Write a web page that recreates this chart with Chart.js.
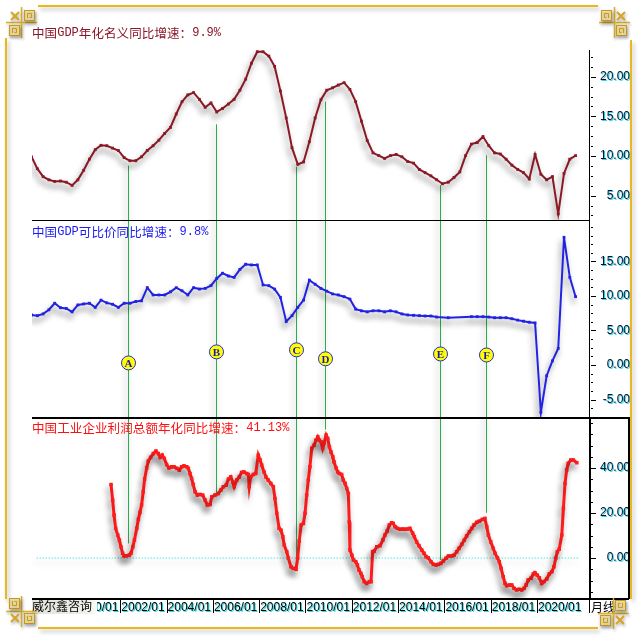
<!DOCTYPE html>
<html>
<head>
<meta charset="utf-8">
<script src="https://cdn.jsdelivr.net/npm/chart.js@4.4.0/dist/chart.umd.min.js"></script>
<style>
html, body { margin: 0; padding: 0; background: #fff; }
#wrap { position: relative; width: 640px; height: 640px; }
canvas { position: absolute; left: 0; top: 0; }
</style>
</head>
<body>
<div id="wrap"><canvas id="chart" width="640" height="640"></canvas></div>
<script>
// titles
const titleTop = '中国GDP年化名义同比增速：9.9%';
const titleMid = '中国GDP可比价同比增速：9.8%';
const titleBot = '中国工业企业利润总额年化同比增速：41.13%';

// quarterly series, first quarter is 1998/03
const quarterStart = 1998 + 2 / 12;
const nominalGdp = [
  9.9, 8.4, 7.4, 7.0, 6.8, 6.85, 6.7, 6.3, 7.0, 8.2,
  9.6, 10.8, 11.35, 11.3, 11.0, 10.7, 9.8, 9.4, 9.4, 9.9,
  10.7, 11.3, 12.0, 12.85, 13.6, 15.3, 16.85, 17.7, 18.0, 17.15,
  16.15, 16.7, 15.55, 16.0, 16.55, 17.15, 18.3, 19.7, 21.7, 23.15,
  23.15, 22.6, 21.3, 18.2, 14.8, 11.05, 8.95, 9.25, 11.8, 14.8,
  17.1, 18.3, 18.6, 18.95, 19.25, 18.4, 16.85, 14.4, 11.95, 10.4,
  10.05, 9.7, 10.05, 10.2, 9.9, 9.3, 9.1, 8.3, 7.9, 7.5,
  7.0, 6.5, 6.7, 7.3, 8.0, 10.05, 11.5, 11.7, 12.45, 11.3,
  10.4, 10.25, 9.6, 8.85, 8.3, 7.9, 7.1, 10.2, 7.7, 7.0,
  7.4, 2.7, 7.8, 9.6, 10.05
];
const realGdp = [
  7.25, 7.15, 7.4, 8.0, 8.95, 8.3, 8.2, 7.7, 8.7, 8.85,
  8.95, 8.35, 9.4, 9.0, 8.8, 8.35, 8.95, 8.95, 9.2, 9.3,
  11.2, 10.15, 10.15, 10.15, 10.6, 11.2, 10.75, 10.15, 11.2, 11.0,
  11.1, 11.5, 12.55, 13.3, 12.9, 12.7, 13.85, 14.6, 14.5, 14.5,
  11.6, 11.5, 11.0, 9.8, 6.3, 7.15, 8.35, 9.4, 12.3, 11.7,
  11.1, 10.7, 10.3, 10.15, 9.9, 9.55, 8.1, 7.85, 7.7, 7.85,
  7.85, 7.7, 7.85, 7.7, 7.4, 7.25, 7.2, 7.15, 7.1, 7.1,
  6.95, null, 6.85, null, null, null, 7.0, 7.0, 7.0, 6.95,
  6.85, 6.85, 6.85, 6.7, 6.5, 6.35, 6.2, 6.1, -6.85, -1.55,
  0.6, 2.4, 18.5, 12.7, 9.9
];

// monthly profit series
const profitDates = [
  2001.60, 2001.67, 2001.73, 2001.80, 2001.89, 2001.96, 2002.03, 2002.10, 2002.16, 2002.28,
  2002.39, 2002.46, 2002.54, 2002.61, 2002.71, 2002.78, 2002.85, 2002.92, 2002.99, 2003.05,
  2003.14, 2003.21, 2003.31, 2003.43, 2003.54, 2003.64, 2003.72, 2003.81, 2003.90, 2004.00,
  2004.10, 2004.22, 2004.32, 2004.44, 2004.55, 2004.65, 2004.75, 2004.87, 2004.94, 2005.01,
  2005.08, 2005.15, 2005.23, 2005.33, 2005.44, 2005.56, 2005.66, 2005.76, 2005.88, 2005.95,
  2006.09, 2006.23, 2006.34, 2006.45, 2006.57, 2006.67, 2006.77, 2006.86, 2006.92, 2007.03,
  2007.14, 2007.24, 2007.34, 2007.46, 2007.53, 2007.57, 2007.63, 2007.75, 2007.85, 2007.96,
  2008.04, 2008.11, 2008.21, 2008.29, 2008.39, 2008.50, 2008.61, 2008.68, 2008.76, 2008.86,
  2008.94, 2009.02, 2009.08, 2009.19, 2009.26, 2009.37, 2009.47, 2009.59, 2009.66, 2009.73,
  2009.81, 2009.91, 2009.98, 2010.05, 2010.12, 2010.19, 2010.27, 2010.37, 2010.45, 2010.53,
  2010.60, 2010.67, 2010.74, 2010.80, 2010.89, 2010.96, 2011.03, 2011.10, 2011.18, 2011.23,
  2011.32, 2011.39, 2011.46, 2011.56, 2011.63, 2011.71, 2011.78, 2011.85, 2011.89, 2011.92,
  2012.00, 2012.07, 2012.17, 2012.24, 2012.31, 2012.39, 2012.45, 2012.54, 2012.64, 2012.76,
  2012.83, 2012.90, 2012.97, 2013.08, 2013.22, 2013.34, 2013.43, 2013.53, 2013.62, 2013.72,
  2013.79, 2013.87, 2013.97, 2014.08, 2014.20, 2014.30, 2014.40, 2014.51, 2014.63, 2014.70,
  2014.80, 2014.90, 2015.02, 2015.12, 2015.21, 2015.30, 2015.42, 2015.52, 2015.64, 2015.74,
  2015.84, 2015.95, 2016.07, 2016.17, 2016.32, 2016.42, 2016.53, 2016.63, 2016.75, 2016.86,
  2016.96, 2017.08, 2017.18, 2017.28, 2017.40, 2017.51, 2017.64, 2017.75, 2017.83, 2017.90,
  2018.00, 2018.11, 2018.19, 2018.29, 2018.37, 2018.45, 2018.54, 2018.62, 2018.69, 2018.80,
  2018.91, 2019.01, 2019.12, 2019.22, 2019.34, 2019.44, 2019.53, 2019.62, 2019.74, 2019.84,
  2019.91, 2020.01, 2020.10, 2020.20, 2020.30, 2020.42, 2020.53, 2020.64, 2020.73, 2020.81,
  2020.88, 2020.96, 2021.07, 2021.14, 2021.21, 2021.28, 2021.35, 2021.46, 2021.57, 2021.72
];
const profitGrowth = [
  32.7, 25.8, 19.1, 13.2, 10.2, 8.0, 5.0, 2.1, 0.9, 1.0,
  1.3, 2.1, 5.0, 8.0, 13.2, 17.2, 20.3, 23.6, 29.5, 35.1,
  40.1, 43.1, 44.8, 46.5, 47.6, 46.5, 44.8, 45.8, 44.3, 41.6,
  40.1, 40.6, 40.6, 39.9, 39.1, 40.6, 41.0, 40.6, 39.9, 37.6,
  35.4, 32.7, 29.5, 28.0, 28.3, 28.0, 25.8, 23.6, 23.8, 27.2,
  28.0, 28.7, 30.2, 31.7, 32.4, 35.1, 36.1, 33.9, 31.7, 34.7,
  36.1, 38.1, 38.3, 37.6, 37.2, 31.7, 36.1, 37.2, 37.6, 45.8,
  43.6, 41.3, 38.3, 36.1, 34.7, 33.2, 31.7, 26.5, 19.9, 13.2,
  12.4, 9.5, 5.8, 2.8, -0.1, -3.9, -4.6, -5.0, -0.1, 7.6,
  14.7, 15.4, 19.9, 28.0, 34.7, 40.6, 48.8, 50.2, 52.4, 53.9,
  52.4, 51.7, 48.8, 51.0, 54.7, 53.2, 49.5, 47.2, 45.0, 42.8,
  40.1, 38.3, 37.6, 37.2, 34.7, 33.2, 31.0, 28.7, 16.1, 3.6,
  1.3, -0.9, -1.6, -3.1, -5.3, -6.8, -8.3, -10.5, -11.3, -10.5,
  -10.5, 2.8, 3.1, 5.0, 5.5, 8.0, 10.2, 12.0, 14.7, 15.7,
  15.4, 13.9, 13.2, 12.8, 12.9, 12.8, 12.9, 13.2, 11.0, 9.5,
  7.2, 5.5, 3.6, 2.1, 0.6, 0.1, -1.6, -2.8, -3.1, -2.8,
  -2.4, -1.3, -0.1, 0.9, 0.9, 1.3, 2.8, 4.3, 6.1, 8.0,
  9.8, 11.7, 13.2, 14.7, 15.9, 16.4, 17.2, 17.6, 13.9, 10.2,
  7.2, 4.3, 2.1, 0.1, -1.6, -4.6, -8.3, -11.3, -12.3, -12.0,
  -12.0, -13.5, -14.2, -13.9, -14.2, -13.5, -12.0, -9.8, -9.0, -7.1,
  -6.5, -7.6, -8.8, -11.3, -10.5, -9.3, -7.1, -6.1, -3.9, -0.1,
  2.8, 4.0, 10.2, 22.1, 33.2, 39.1, 42.1, 43.6, 43.6, 42.4
];

// zero reference line under the profit series
const zeroLineDates = [1998.39, 2021.77];
const zeroLineValues = [0, 0];

// marked turning points A-F
const eventLetters = ['A', 'B', 'C', 'D', 'E', 'F'];
const eventDates = [2002.35, 2006.12, 2009.60, 2010.86, 2015.82, 2017.81];
const eventTopValues = [8.78, 14.0, 8.65, 16.85, 6.34, 10.1];
const eventBottomValues = [6.5, 29.0, 0.6, 57.1, -0.9, 20.1];
const eventBadgeValues = [0.3, 1.9, 2.2, 0.9, 1.6, 1.45];

const xTickYears = [2000, 2002, 2004, 2006, 2008, 2010, 2012, 2014, 2016, 2018, 2020];

Chart.defaults.font.family = '"Liberation Sans", Arial, sans-serif';

function quarterPoints(values) {
  return values.map((v, i) => ({ x: quarterStart + i * 0.25, y: v }));
}
function pairPoints(xs, ys) {
  return xs.map((x, i) => ({ x: x, y: ys[i] }));
}
function isMultiple(v, s) {
  return Math.abs(v / s - Math.round(v / s)) < 1e-6;
}

function panelAxis(min, max, step, labelStep, labelMax, weight) {
  return {
    type: 'linear',
    position: 'right',
    stack: 'panels',
    stackWeight: weight,
    min: min,
    max: max,
    grid: { display: false },
    border: { display: false },
    ticks: {
      stepSize: step,
      includeBounds: false,
      autoSkip: false,
      crossAlign: 'far',
      padding: 9,
      color: '#0c0c30',
      font: { size: 12 },
      callback: v => (isMultiple(v, labelStep) && v <= labelMax) ? v.toFixed(2) : ''
    },
    afterFit: s => { s.width = 41; }
  };
}

function lineSet(data, axis, color, width, radius) {
  return {
    data: data,
    yAxisID: axis,
    borderColor: color,
    backgroundColor: color,
    borderWidth: width,
    pointStyle: 'rect',
    pointRadius: radius,
    pointBorderWidth: 0,
    tension: 0,
    spanGaps: true
  };
}

// draws text char by char, CJK glyphs and latin glyphs in different fonts
function drawMixed(ctx, text, x, y, color) {
  ctx.save();
  ctx.fillStyle = color;
  ctx.textBaseline = 'middle';
  ctx.textAlign = 'left';
  for (const ch of text) {
    const cjk = ch.charCodeAt(0) > 0x2000;
    ctx.font = cjk ? '12.5px "Noto Sans CJK SC"' : '12px "Liberation Mono"';
    ctx.fillText(ch, x, y);
    x += cjk ? 12.6 : 7.2;
  }
  ctx.restore();
}

function spiralBox(ctx, x, y) {
  ctx.fillStyle = '#f7e9b0';
  ctx.fillRect(x, y, 11, 11);
  ctx.strokeStyle = '#c99a1a';
  ctx.lineWidth = 1;
  ctx.strokeRect(x + 0.5, y + 0.5, 10, 10);
  ctx.beginPath();
  ctx.moveTo(x + 3.5, y + 8);
  ctx.lineTo(x + 3.5, y + 3.5);
  ctx.lineTo(x + 7.5, y + 3.5);
  ctx.lineTo(x + 7.5, y + 7.5);
  ctx.lineTo(x + 5.5, y + 7.5);
  ctx.stroke();
}

function ornament(ctx, ox, oy, fx, fy) {
  ctx.save();
  ctx.translate(ox, oy);
  ctx.scale(fx, fy);
  ctx.shadowColor = 'rgba(0,0,0,0.3)';
  ctx.shadowBlur = 3;
  ctx.shadowOffsetX = 1;
  ctx.shadowOffsetY = 2;
  ctx.strokeStyle = '#dcae2a';
  ctx.lineWidth = 1.5;
  ctx.beginPath();
  ctx.moveTo(0, 15.5); ctx.lineTo(31, 15.5);
  ctx.moveTo(15.5, 0); ctx.lineTo(15.5, 31);
  ctx.stroke();
  ctx.lineWidth = 2;
  ctx.strokeStyle = '#d8a520';
  ctx.beginPath();
  ctx.moveTo(5, 5); ctx.lineTo(13, 13);
  ctx.moveTo(13, 5); ctx.lineTo(5, 13);
  ctx.stroke();
  spiralBox(ctx, 18, 3);
  spiralBox(ctx, 3, 18);
  ctx.restore();
}

function clearShadow(ctx) {
  ctx.shadowColor = 'rgba(0,0,0,0)';
  ctx.shadowBlur = 0;
  ctx.shadowOffsetX = 0;
  ctx.shadowOffsetY = 0;
}

const decor = {
  id: 'decor',
  beforeDraw(chart) {
    // cyan fringe behind the axis labels
    const ctx = chart.ctx;
    ctx.shadowColor = 'rgba(0,215,230,0.85)';
    ctx.shadowBlur = 0;
    ctx.shadowOffsetX = 1;
    ctx.shadowOffsetY = 1;
  },
  beforeDatasetsDraw(chart) {
    const { ctx, scales } = chart;
    clearShadow(ctx);
    ctx.save();
    ctx.shadowColor = 'rgba(0,0,0,0.4)';
    ctx.shadowBlur = 6;
    ctx.shadowOffsetX = -2;
    ctx.strokeStyle = '#27b04a';
    ctx.lineWidth = 1;
    eventDates.forEach((d, i) => {
      const px = Math.round(scales.x.getPixelForValue(d)) + 0.5;
      ctx.beginPath();
      ctx.moveTo(px, scales.yTop.getPixelForValue(eventTopValues[i]));
      ctx.lineTo(px, scales.yBot.getPixelForValue(eventBottomValues[i]));
      ctx.stroke();
    });
    ctx.restore();
  },
  beforeDatasetDraw(chart) {
    const ctx = chart.ctx;
    ctx.shadowColor = 'rgba(0,0,0,0.42)';
    ctx.shadowBlur = 6;
    ctx.shadowOffsetX = -2;
    ctx.shadowOffsetY = 5;
  },
  afterDatasetDraw(chart) {
    clearShadow(chart.ctx);
  },
  afterDatasetsDraw(chart) {
    const { ctx, chartArea: a, scales } = chart;
    const yt = scales.yTop, ym = scales.yMid, yb = scales.yBot;
    const frameRight = 629;
    ctx.save();
    ctx.fillStyle = '#000';
    // panel separators and right axis
    ctx.fillRect(a.left, Math.round(ym.top), a.right - a.left, 1);
    ctx.fillRect(a.left, Math.round(yb.top) - 1, frameRight - a.left, 2);
    ctx.fillRect(a.left, Math.round(a.bottom), frameRight - a.left, 2);
    ctx.fillRect(frameRight - 1, Math.round(yb.top) - 1, 2, yb.bottom - yb.top + 2);
    ctx.fillRect(a.right, Math.round(yt.top), 1, a.bottom - yt.top);
    ctx.fillRect(a.right, Math.round(yb.top), 2, yb.bottom - yb.top);
    // axis tick marks
    [yt, ym, yb].forEach(s => {
      s.ticks.forEach(t => {
        const py = Math.round(s.getPixelForValue(t.value));
        const major = t.label !== '';
        ctx.fillRect(a.right + 2, py, major ? 5 : 2, 1);
      });
    });
    // x axis separators
    xTickYears.forEach(yr => {
      const px = Math.round(scales.x.getPixelForValue(yr));
      ctx.fillRect(px, a.bottom, 1, 15);
    });
    ctx.fillRect(a.right, a.bottom, 1, 15);

    // badges
    eventDates.forEach((d, i) => {
      const px = Math.round(scales.x.getPixelForValue(d)) + 0.5;
      const py = ym.getPixelForValue(eventBadgeValues[i]);
      ctx.beginPath();
      ctx.arc(px, py, 7, 0, Math.PI * 2);
      ctx.fillStyle = '#ffff00';
      ctx.fill();
      ctx.strokeStyle = '#2a2acc';
      ctx.lineWidth = 1;
      ctx.stroke();
      ctx.fillStyle = '#1a1ab8';
      ctx.font = 'bold 11px "Liberation Serif"';
      ctx.textAlign = 'center';
      ctx.textBaseline = 'middle';
      ctx.fillText(eventLetters[i], px, py + 1);
    });

    // titles
    drawMixed(ctx, titleTop, a.left, a.top - 17, '#8b1526');
    drawMixed(ctx, titleMid, a.left, ym.top + 12, '#1c1cf0');
    drawMixed(ctx, titleBot, a.left, yb.top + 10, '#ff1010');

    // source label box
    const g = ctx.createLinearGradient(a.left, 0, a.left + 65, 0);
    g.addColorStop(0, '#e2e2da');
    g.addColorStop(0.85, '#f0f0ea');
    g.addColorStop(1, '#fbfbf8');
    ctx.fillStyle = g;
    ctx.fillRect(a.left, a.bottom + 2, 65, 14);
    ctx.fillStyle = '#000';
    ctx.font = '12px "Noto Sans CJK SC"';
    ctx.textAlign = 'left';
    ctx.textBaseline = 'middle';
    ctx.fillText('威尔鑫咨询', a.left, a.bottom + 8);
    ctx.fillText('月线', a.right + 2, a.bottom + 9);
    ctx.restore();
  },
  afterDraw(chart) {
    const ctx = chart.ctx;
    ctx.save();
    ctx.shadowColor = 'rgba(0,0,0,0.28)';
    ctx.shadowBlur = 4;
    ctx.shadowOffsetX = 2;
    ctx.shadowOffsetY = 3;
    ctx.strokeStyle = '#e8b81c';
    ctx.lineWidth = 2;
    ctx.beginPath();
    ctx.moveTo(38, 6); ctx.lineTo(598, 6);
    ctx.moveTo(6, 38); ctx.lineTo(6, 599);
    ctx.moveTo(38, 628); ctx.lineTo(598, 628);
    ctx.moveTo(631, 40); ctx.lineTo(631, 599);
    ctx.stroke();
    ctx.restore();
    ornament(ctx, 6, 7, 1, 1);
    ornament(ctx, 630, 7, -1, 1);
    ornament(ctx, 6, 627, 1, -1);
    ornament(ctx, 629, 629, -1, -1);
  }
};

new Chart(document.getElementById('chart'), {
  type: 'line',
  data: {
    datasets: [
      lineSet(quarterPoints(nominalGdp), 'yTop', '#8c1a26', 2, 2),
      lineSet(quarterPoints(realGdp), 'yMid', '#2323e6', 2, 2),
      lineSet(pairPoints(profitDates, profitGrowth), 'yBot', '#ff1c1c', 3, 2.5),
      {
        data: pairPoints(zeroLineDates, zeroLineValues),
        yAxisID: 'yBot',
        borderColor: '#00dada',
        borderWidth: 1,
        borderDash: [1, 2],
        pointRadius: 0
      }
    ]
  },
  options: {
    responsive: false,
    animation: false,
    devicePixelRatio: 1,
    layout: { padding: { left: 32, top: 50, right: 10, bottom: 24 } },
    plugins: { legend: { display: false }, tooltip: { enabled: false } },
    scales: {
      x: {
        type: 'linear',
        min: 1998.186,
        max: 2022.246,
        grid: { display: false, drawTicks: false },
        border: { display: false },
        ticks: {
          stepSize: 2,
          includeBounds: false,
          autoSkip: false,
          maxRotation: 0,
          align: 'start',
          labelOffset: 1,
          padding: 2,
          color: '#000',
          font: { size: 12 },
          callback: v => xTickYears.includes(v) ? v + '/01' : ''
        },
        afterFit: s => { s.height = 18; }
      },
      yTop: panelAxis(1.93, 23.37, 1.25, 5, 20, 170),
      yMid: panelAxis(-7.68, 21.01, 1.25, 5, 15, 198),
      yBot: panelAxis(-17.78, 62.3, 5, 20, 40, 180)
    }
  },
  plugins: [decor]
});
</script>
</body>
</html>
